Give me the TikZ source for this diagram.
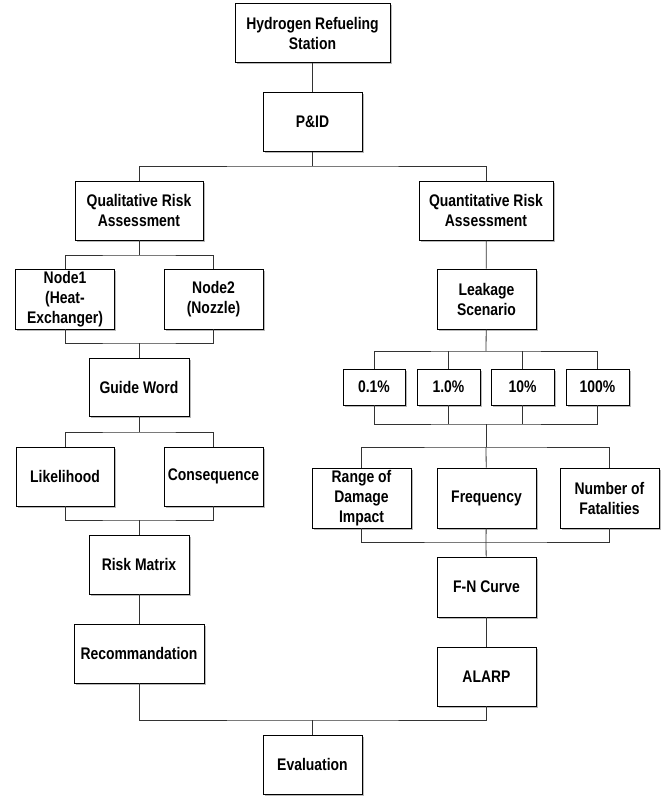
\documentclass[tikz,border=0pt]{standalone}
\usepackage{fontspec}
\setmainfont{Liberation Sans}[FakeStretch=0.83]
\usepackage{tikz}
\usetikzlibrary{shadows}

\tikzset{
    box/.style={draw=black, line width=0.9pt, fill=white, align=center,
        inner sep=0pt, minimum width=99pt, minimum height=59pt,
        font=\fontsize{16.8}{20}\selectfont\bfseries,
        drop shadow={shadow xshift=1.6pt, shadow yshift=-1.6pt, fill=gray!55, opacity=1}},
    pct/.style={box, minimum width=63pt, minimum height=36pt},
    link/.style={draw=black!80, line width=0.8pt}
}

\begin{document}
\begin{tikzpicture}[x=1pt, y=-1pt]
    \useasboundingbox (0,0) rectangle (661,797);

    % Top of the tree
    \node[box, minimum width=155pt] (station) at (312.5,33) {Hydrogen Refueling\\Station};
    \node[box] (pid) at (312.5,122) {P\&ID};

    % Qualitative branch
    \node[box, minimum width=128pt] (qual) at (139,210.5) {Qualitative Risk\\Assessment};
    \node[box, minimum height=60pt] (nodeone) at (65,299) {Node1\\(Heat-\\Exchanger)};
    \node[box, minimum height=60pt] (nodetwo) at (213.5,299) {Node2\\(Nozzle)};
    \node[box, minimum width=100pt, minimum height=58pt] (guide) at (139,387) {Guide Word};
    \node[box, minimum width=98pt] (likeli) at (65,476.5) {Likelihood};
    \node[box] (conseq) at (213.5,476.5) {Consequence};
    \node[box, minimum width=100pt] (riskmat) at (139,564.5) {Risk Matrix};
    \node[box, minimum width=130pt] (recom) at (139,653.5) {Recommandation};

    % Quantitative branch
    \node[box, minimum width=134pt] (quant) at (486,210.5) {Quantitative Risk\\Assessment};
    \node[box, minimum height=60pt] (leak) at (486.5,299) {Leakage\\Scenario};
    \node[pct, minimum width=62pt] (pa) at (374,387) {0.1\%};
    \node[pct] (pb) at (448.5,387) {1.0\%};
    \node[pct] (pc) at (522.5,387) {10\%};
    \node[pct] (pd) at (597.5,387) {100\%};
    \node[box, minimum height=60pt] (range) at (361.5,498) {Range of\\Damage\\Impact};
    \node[box, minimum height=60pt] (freq) at (486.5,498) {Frequency};
    \node[box, minimum height=60pt] (fatal) at (609.5,498) {Number of\\Fatalities};
    \node[box, minimum height=60pt] (fncurve) at (486.5,587) {F-N Curve};
    \node[box] (alarp) at (486.5,676.5) {ALARP};

    % Bottom
    \node[box] (evaluation) at (312.5,764.5) {Evaluation};

    % Bus junctions
    \coordinate (jtop) at (312.5,166);
    \coordinate (jqual) at (139,255);
    \coordinate (jnode) at (139,343);
    \coordinate (jguide) at (139,432);
    \coordinate (jlike) at (139,520);
    \coordinate (jleak) at (486,351);
    \coordinate (jpct) at (486,424);
    \coordinate (jsplit) at (486,447);
    \coordinate (jmerge) at (486,542);
    \coordinate (jend) at (312.5,720);

    \begin{scope}[on background layer/.try]
    % Top connections
    \draw[link] (station) -- (pid);
    \draw[link] (pid) -- (jtop);
    \draw[link] (qual.north) |- (jtop) -| (quant.north);

    % Qualitative connections
    \draw[link] (qual) -- (jqual);
    \draw[link] (nodeone.north) |- (jqual) -| (nodetwo.north);
    \draw[link] (nodeone.south) |- (jnode) -| (nodetwo.south);
    \draw[link] (jnode) -- (guide);
    \draw[link] (guide) -- (jguide);
    \draw[link] (likeli.north) |- (jguide) -| (conseq.north);
    \draw[link] (likeli.south) |- (jlike) -| (conseq.south);
    \draw[link] (jlike) -- (riskmat);
    \draw[link] (riskmat) -- (recom);

    % Quantitative connections
    \draw[link] (quant) -- (leak);
    \draw[link] (leak) -- (jleak);
    \draw[link] (pa.north) |- (jleak) -| (pd.north);
    \foreach \p in {pb,pc}
        \draw[link] (\p.north) -- (\p.north |- jleak);
    \draw[link] (pa.south) |- (jpct) -| (pd.south);
    \foreach \p in {pb,pc}
        \draw[link] (\p.south) -- (\p.south |- jpct);
    \draw[link] (jpct) -- (jsplit);
    \draw[link] (range.north) |- (jsplit) -| (fatal.north);
    \draw[link] (jsplit) -- (freq);
    \draw[link] (range.south) |- (jmerge) -| (fatal.south);
    \draw[link] (freq) -- (jmerge) -- (fncurve);
    \draw[link] (fncurve) -- (alarp);

    % Final merge
    \draw[link] (recom.south) |- (jend) -| (alarp.south);
    \draw[link] (jend) -- (evaluation);
    \end{scope}
\end{tikzpicture}
\end{document}
